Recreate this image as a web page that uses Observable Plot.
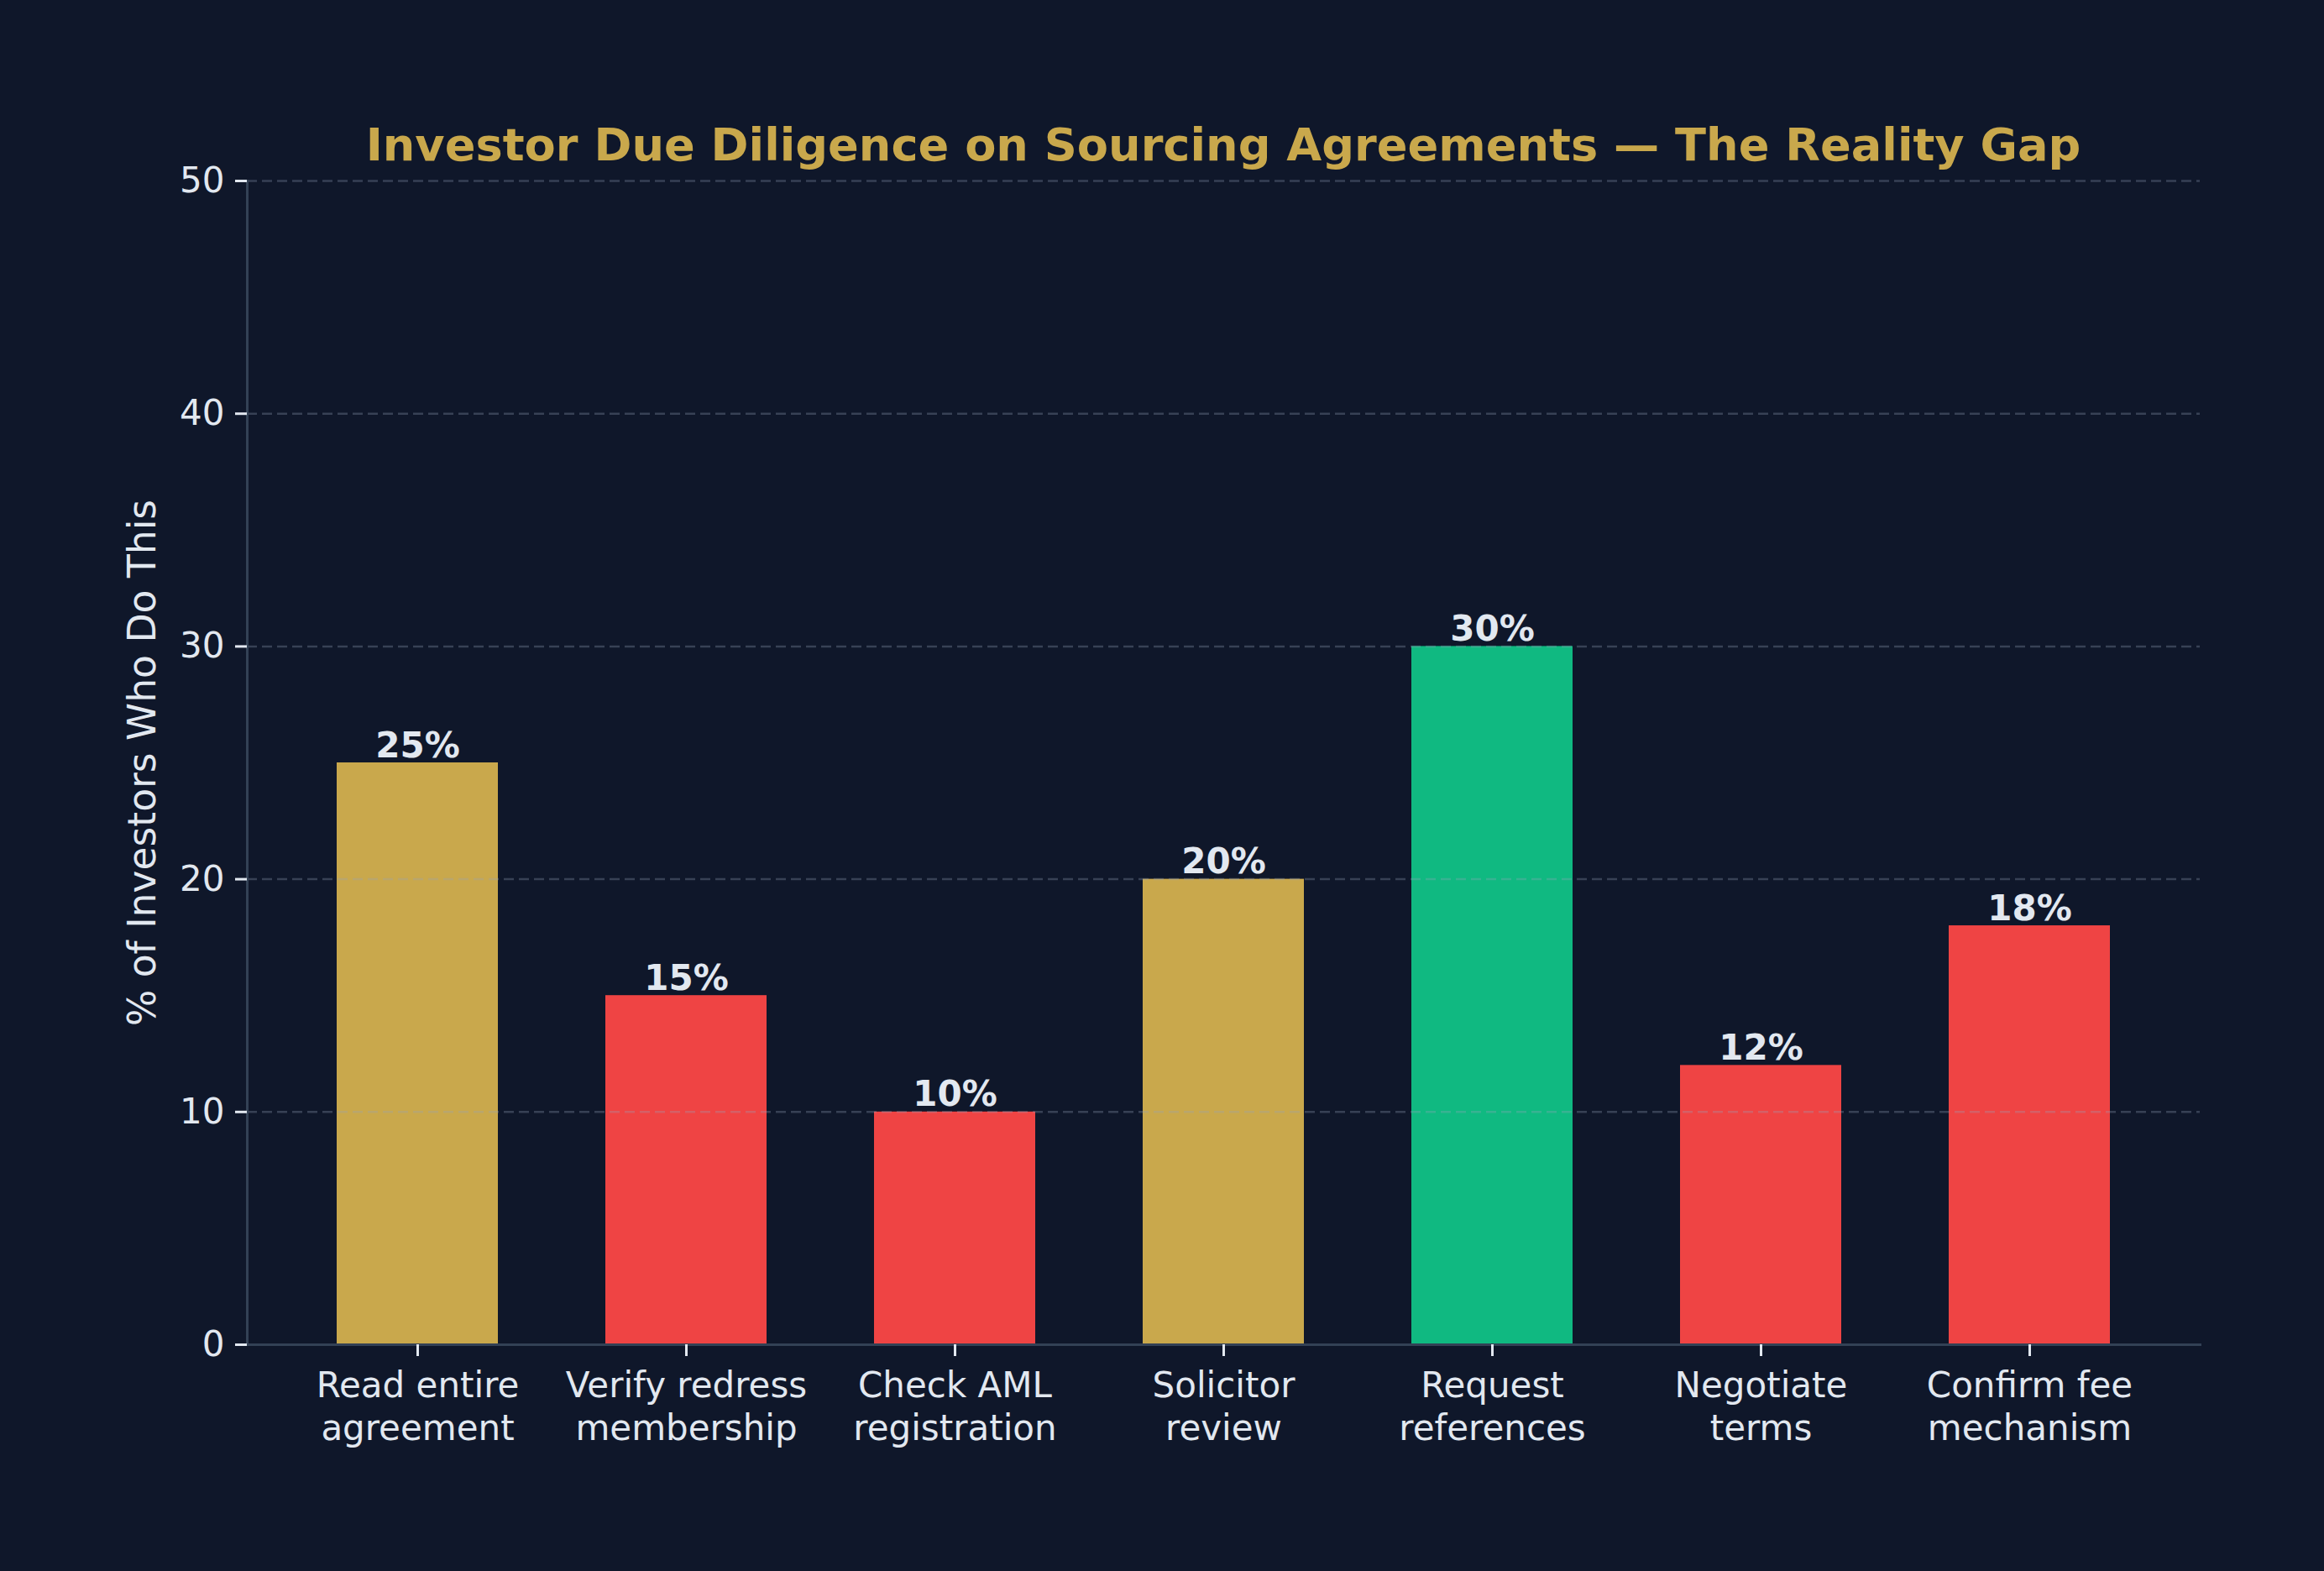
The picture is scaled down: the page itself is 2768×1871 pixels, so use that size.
<!DOCTYPE html>
<html>
<head>
<meta charset="utf-8">
<script src="https://cdn.jsdelivr.net/npm/d3@7"></script>
<script src="https://cdn.jsdelivr.net/npm/@observablehq/plot@0.6"></script>
<style>
  html, body { margin: 0; padding: 0; background: #0f172a; }
  #wrap { position: relative; width: 2768px; height: 1871px; }
  #title {
    position: absolute; left: 294px; width: 2326px; top: 138px;
    text-align: center; font-family: "DejaVu Sans", sans-serif; font-weight: bold;
    font-size: 54.2px; color: #c9a84c; line-height: 70px; white-space: nowrap;
  }
</style>
</head>
<body>
<div id="wrap">
  <div id="title">Investor Due Diligence on Sourcing Agreements — The Reality Gap</div>
  <div id="chart"></div>
</div>
<script>
const categories = [
  "Read entire\nagreement",
  "Verify redress\nmembership",
  "Check AML\nregistration",
  "Solicitor\nreview",
  "Request\nreferences",
  "Negotiate\nterms",
  "Confirm fee\nmechanism"
];
const values = [25, 15, 10, 20, 30, 12, 18];
const tiers = ["partial", "low", "low", "partial", "high", "low", "low"];
const tierNames = ["low", "partial", "high"];
const tierColors = ["#ef4444", "#c9a84c", "#10b981"];
const yTicks = [0, 10, 20, 30, 40, 50];
const yLabel = "% of Investors Who Do This";

const data = categories.map((c, i) => ({ label: c, value: values[i], tier: tiers[i] }));

const chart = Plot.plot({
  width: 2768,
  height: 1871,
  marginLeft: 294,
  marginRight: 148,
  marginTop: 215,
  marginBottom: 270,
  style: { background: "#0f172a", fontFamily: "DejaVu Sans, sans-serif", color: "#e2e8f0" },
  x: { domain: categories, paddingInner: 0.4, paddingOuter: 0.33 },
  y: { domain: [0, 50] },
  color: { domain: tierNames, range: tierColors },
  marks: [
    Plot.barY(data, { x: "label", y: "value", fill: "tier" }),
    Plot.gridY(yTicks, { stroke: "#94a3b8", strokeOpacity: 0.3, strokeWidth: 2.5, strokeDasharray: "12,6" }),
    Plot.frame({ anchor: "left", stroke: "#334155", strokeWidth: 3 }),
    Plot.frame({ anchor: "bottom", stroke: "#334155", strokeWidth: 3 }),
    Plot.text(data, {
      x: "label", y: "value", text: d => d.value + "%",
      dy: -7, lineAnchor: "bottom", fontWeight: "bold", fontSize: 42, fill: "#e2e8f0"
    }),
    Plot.axisY(yTicks, {
      tickSize: 14, tickPadding: 13, fontSize: 42, color: "#e2e8f0", strokeWidth: 3,
      label: null
    }),
    Plot.text([yLabel], {
      frameAnchor: "left", textAnchor: "middle", rotate: -90, dx: -124, text: d => d,
      fontSize: 45.6, fill: "#e2e8f0"
    }),
    Plot.axisX({
      tickSize: 14, tickPadding: 13, fontSize: 42, lineHeight: 1.2, color: "#e2e8f0", strokeWidth: 3,
      label: null
    })
  ]
});
document.getElementById("chart").appendChild(chart);
</script>
</body>
</html>
